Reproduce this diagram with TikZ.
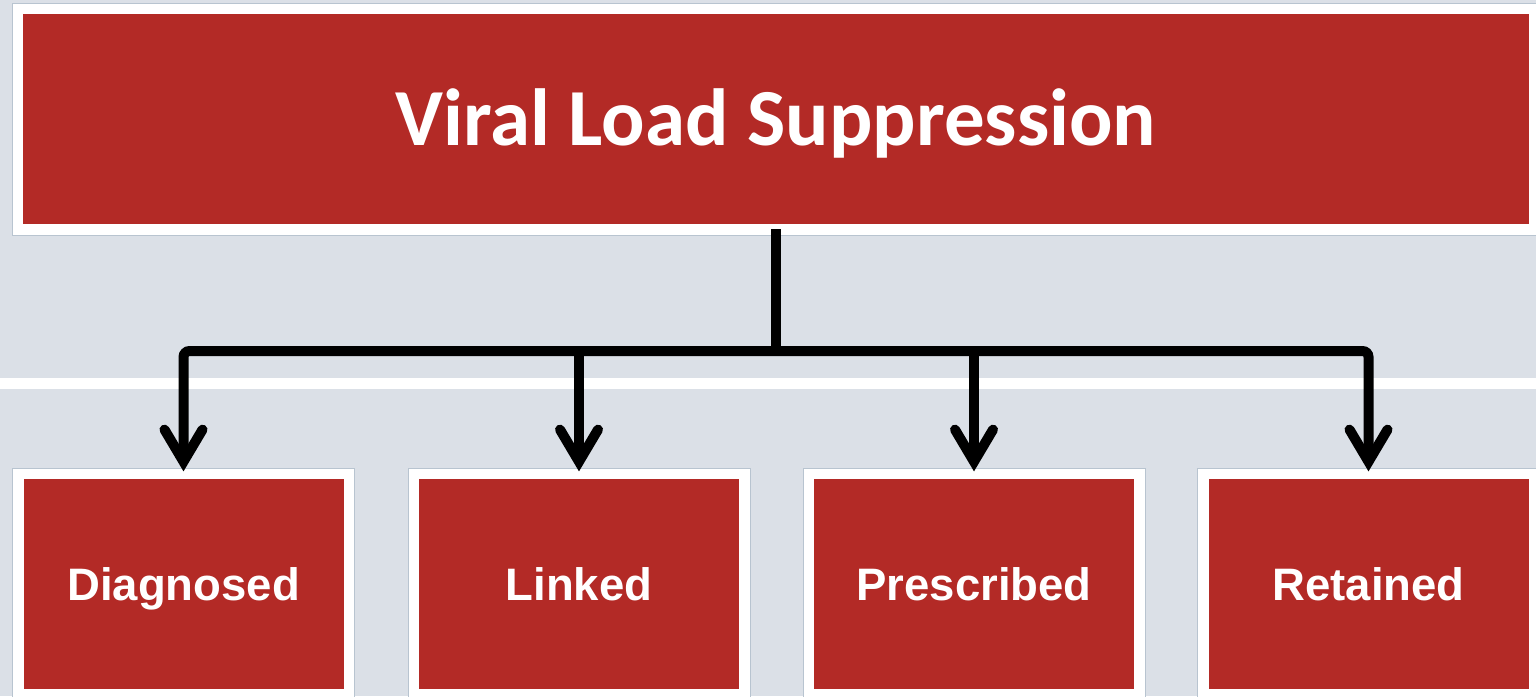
\documentclass[tikz,border=0pt]{standalone}
\usepackage{fontspec}
\usetikzlibrary{calc}
\newfontfamily\titlefont{Carlito}[BoldFont={* Bold}]
\newfontfamily\labelfont{Liberation Sans}[BoldFont={* Bold}]
\definecolor{pagebg}{RGB}{219,224,231}
\definecolor{cardred}{RGB}{179,42,38}
\definecolor{cardedge}{RGB}{184,196,208}
\tikzset{
  card/.style={draw=cardedge, line width=0.8pt, fill=white, inner sep=0pt,
    text=white, align=center,
    path picture={\fill[cardred]
      ([shift={(11pt,11pt)}]path picture bounding box.south west) rectangle
      ([shift={(-11pt,-11pt)}]path picture bounding box.north east);}},
  headcard/.style={card, minimum width=1528pt, minimum height=232pt,
    font=\titlefont\bfseries\fontsize{81}{86}\selectfont,
    text height=53pt, text depth=0pt},
  stepcard/.style={card, minimum width=342pt, minimum height=232pt,
    font=\labelfont\bfseries\fontsize{45.5}{50}\selectfont,
    text height=33pt, text depth=0pt},
  wire/.style={line width=10pt, draw=black},
  barb/.style={line width=10pt, draw=black, line cap=round, line join=miter}
}
\begin{document}
\begin{tikzpicture}[x=1pt, y=-1pt]
  % page and separator band
  \fill[pagebg] (0,0) rectangle (1536,696);
  \useasboundingbox (0,0) rectangle (1536,696);
  \fill[white] (0,378) rectangle (1536,389);

  % boxes
  \node[headcard] (title) at (776,119) {Viral Load Suppression};
  \node[stepcard] (b1) at (183.5,584) {Diagnosed};
  \node[stepcard] (b2) at (579,584) {Linked};
  \node[stepcard] (b3) at (974,584) {Prescribed};
  \node[stepcard] (b4) at (1368.5,584) {Retained};

  % bus line and arrow vertices
  \coordinate (bus) at (776,351);
  \foreach \i in {1,...,4}
    \coordinate (v\i) at ($(b\i.north)+(0,-6)$);

  \draw[wire] ($(title.south)+(0,-6)$) -- (title.south |- bus);
  \draw[wire, rounded corners=6pt] (v1) |- (bus) -| (v4);
  \draw[wire] (v2 |- bus) -- (v2);
  \draw[wire] (v3 |- bus) -- (v3);

  % arrow heads
  \foreach \i in {1,...,4}
    \draw[barb] ($(v\i)+(-19,-32)$) -- (v\i) -- ($(v\i)+(19,-32)$);
\end{tikzpicture}
\end{document}
